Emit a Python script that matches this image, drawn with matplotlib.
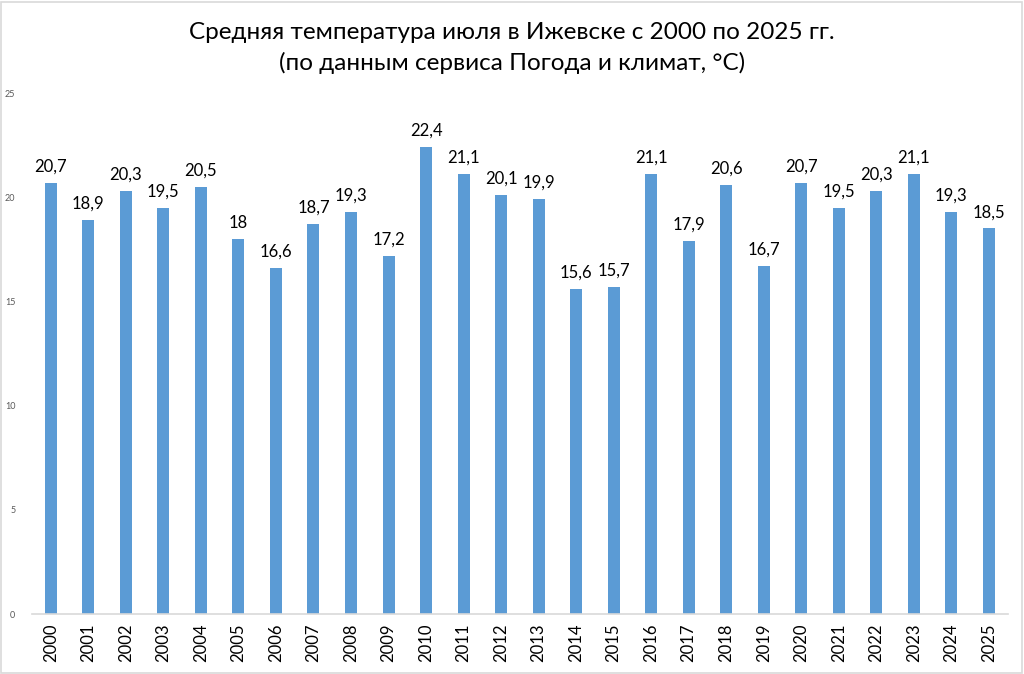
import matplotlib.pyplot as plt
import matplotlib.patches as patches

years = [str(y) for y in range(2000, 2026)]
temps = [20.7, 18.9, 20.3, 19.5, 20.5, 18.0, 16.6, 18.7, 19.3, 17.2,
         22.4, 21.1, 20.1, 19.9, 15.6, 15.7, 21.1, 17.9, 20.6, 16.7,
         20.7, 19.5, 20.3, 21.1, 19.3, 18.5]
yticks = [0, 5, 10, 15, 20, 25]

plt.rcParams["font.family"] = ["Lato", "DejaVu Sans"]

fig = plt.figure(figsize=(10.24, 6.74), dpi=100)
fig.patch.set_facecolor("white")

# thin gray frame round the chart area
fig.add_artist(patches.Rectangle((0.001, 0.002), 0.997, 0.995, transform=fig.transFigure,
                                 fill=False, edgecolor="#D9D9D9", linewidth=1.2))

ax = fig.add_axes([0.0313, 0.089, 0.9527, 0.773])
x = range(len(years))
ax.bar(x, temps, width=0.32, color="#5B9BD5")

for i, v in enumerate(temps):
    label = f"{v:g}".replace(".", ",")
    ax.text(i, v + 0.4, label, ha="center", va="bottom", fontsize=12, color="#000000")

ax.set_xlim(-0.5, len(years) - 0.5)
ax.set_ylim(0, 25)
ax.set_yticks(yticks)
ax.set_yticklabels([str(t) for t in yticks], fontsize=6.5, color="#595959")
ax.set_xticks(list(x))
ax.set_xticklabels(years, rotation=90, fontsize=12, color="#000000")
ax.tick_params(axis="both", length=0)
ax.tick_params(axis="y", pad=12)
ax.tick_params(axis="x", pad=7)

for side in ["top", "right", "left"]:
    ax.spines[side].set_visible(False)
ax.spines["bottom"].set_color("#D9D9D9")
ax.spines["bottom"].set_linewidth(1.2)

fig.text(0.5, 0.952, "Средняя температура июля в Ижевске с 2000 по 2025 гг.",
         ha="center", va="center", fontsize=17.5, color="#000000")
fig.text(0.5, 0.906, "(по данным сервиса Погода и климат, °C)",
         ha="center", va="center", fontsize=17.5, color="#000000")

plt.savefig("out.png", dpi=100)
plt.close()
